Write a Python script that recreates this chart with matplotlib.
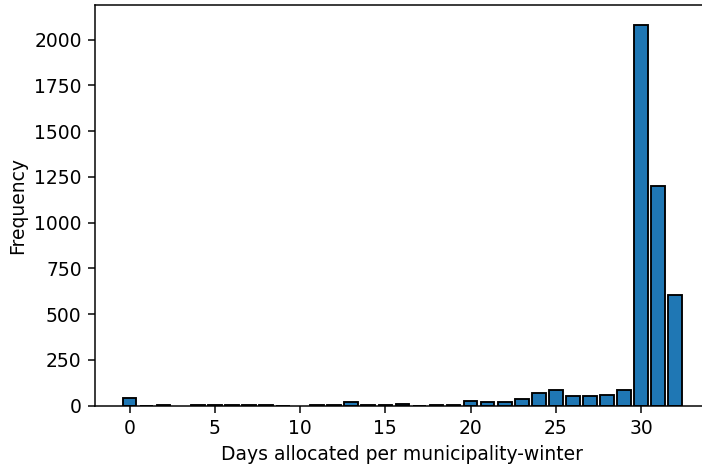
import matplotlib
matplotlib.use("Agg")
import matplotlib.pyplot as plt

# number of municipality-winters per allocated-days value
days = [0, 1, 2, 4, 5, 6, 7, 8, 9, 11, 12, 13, 14, 15, 16, 17, 18, 19,
        20, 21, 22, 23, 24, 25, 26, 27, 28, 29, 30, 31, 32]
freq = [44, 1, 2, 6, 3, 3, 3, 6, 1, 3, 5, 20, 2, 4, 10, 1, 3, 3,
        25, 20, 20, 35, 71, 88, 53, 53, 58, 85, 2083, 1199, 604]

dpi = 135
fig = plt.figure(figsize=(702 / dpi, 466 / dpi), dpi=dpi)
ax = fig.add_axes([0.1350, 0.1294, 0.8764, 0.8588])

ax.bar(days, freq, width=0.8, color="#1f77b4", edgecolor="black")
ax.set_xlabel("Days allocated per municipality-winter")
ax.set_ylabel("Frequency")

fig.savefig("out.png", dpi=dpi)
